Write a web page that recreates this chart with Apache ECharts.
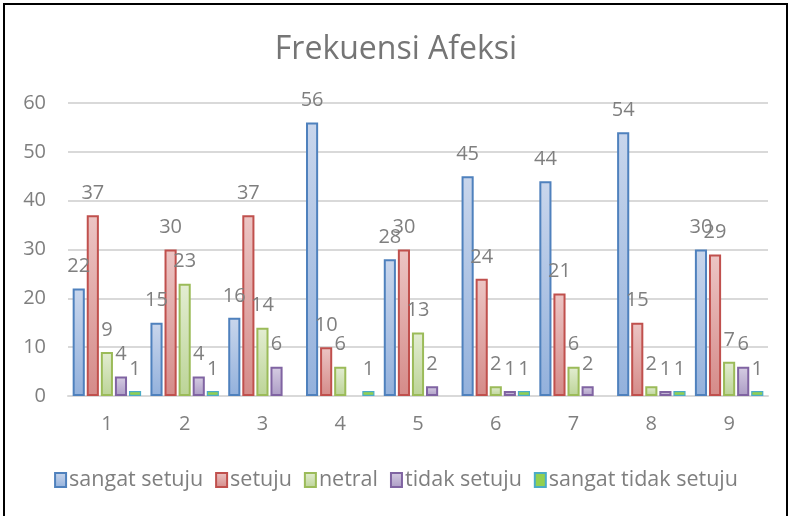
<!DOCTYPE html>
<html>
<head>
<meta charset="utf-8">
<script src="https://cdn.jsdelivr.net/npm/echarts@6.0.0/dist/echarts.min.js"></script>
<style>
    html, body { margin: 0; padding: 0; background: #fff; }
    #frame {
        position: absolute; left: 3px; top: 3px;
        width: 781px; height: 530px;
        border: 2px solid #000;
    }
    #chart { position: absolute; left: 0; top: 0; width: 792px; height: 516px; }
</style>
</head>
<body>
<div id="frame"></div>
<div id="chart"></div>
<script>
    // kategori pernyataan
    const categories = ['1', '2', '3', '4', '5', '6', '7', '8', '9'];

    // nilai tiap seri (null = tidak ada batang)
    const sangatSetuju = [22, 15, 16, 56, 28, 45, 44, 54, 30];
    const setuju = [37, 30, 37, 10, 30, 24, 21, 15, 29];
    const netral = [9, 23, 14, 6, 13, 2, 6, 2, 7];
    const tidakSetuju = [4, 4, 6, null, 2, 1, 2, 1, 6];
    const sangatTidakSetuju = [1, 1, null, 1, null, 1, null, 1, 1];

    const seriesNames = ['sangat setuju', 'setuju', 'netral', 'tidak setuju', 'sangat tidak setuju'];
    const yTicks = [0, 10, 20, 30, 40, 50, 60];

    const font = '"Open Sans", sans-serif';
    const textGray = '#7f7f7f';

    function grad(top, bottom) {
        return new echarts.graphic.LinearGradient(0, 0, 0, 1, [
            { offset: 0, color: top },
            { offset: 1, color: bottom }
        ]);
    }

    const styles = [
        { fill: grad('#c9d6ec', '#93b1dc'), border: '#4f81bd', bw: 2 },
        { fill: grad('#ecc5c4', '#d58b89'), border: '#c0504d', bw: 2 },
        { fill: grad('#e3edd2', '#bcd497'), border: '#9bbb59', bw: 2 },
        { fill: grad('#d6cde3', '#ac9cc5'), border: '#8064a2', bw: 2 },
        { fill: '#92d050', border: '#4bacc6', bw: 1.2 }
    ];

    const values = [sangatSetuju, setuju, netral, tidakSetuju, sangatTidakSetuju];

    const series = values.map((data, i) => ({
        name: seriesNames[i],
        type: 'bar',
        data: data,
        barGap: '16%',
        barCategoryGap: '12%',
        itemStyle: {
            color: styles[i].fill,
            borderColor: styles[i].border,
            borderWidth: styles[i].bw
        },
        label: {
            show: true,
            position: 'top',
            distance: 12,
            color: textGray,
            fontSize: 20,
            fontFamily: font
        }
    }));

    const chart = echarts.init(document.getElementById('chart'));
    chart.setOption({
        animation: false,
        title: {
            text: 'Frekuensi Afeksi',
            left: 'center',
            top: 29,
            textStyle: { color: '#757575', fontSize: 32, fontWeight: 'normal', fontFamily: font }
        },
        legend: {
            data: seriesNames.map((n, i) => ({
                name: n,
                itemStyle: { color: styles[i].fill, borderColor: styles[i].border, borderWidth: 2 }
            })),
            bottom: 20,
            left: 'center',
            itemWidth: 11,
            itemHeight: 14,
            itemGap: 12,
            icon: 'rect',
            textStyle: { color: textGray, fontSize: 21.5, fontFamily: font, padding: [0, 0, 0, -2] }
        },
        grid: { left: 68, right: 24, top: 103, bottom: 120 },
        xAxis: {
            type: 'category',
            data: categories,
            axisLine: { lineStyle: { color: '#d9d9d9', width: 2 } },
            axisTick: { show: false },
            axisLabel: { color: textGray, fontSize: 20, fontFamily: font, margin: 18 }
        },
        yAxis: {
            type: 'value',
            min: yTicks[0],
            max: yTicks[yTicks.length - 1],
            interval: 10,
            axisLine: { show: false },
            axisTick: { show: false },
            splitLine: { lineStyle: { color: '#d9d9d9', width: 2 } },
            axisLabel: { color: textGray, fontSize: 20, fontFamily: font, margin: 22 }
        },
        series: series
    });
</script>
</body>
</html>
